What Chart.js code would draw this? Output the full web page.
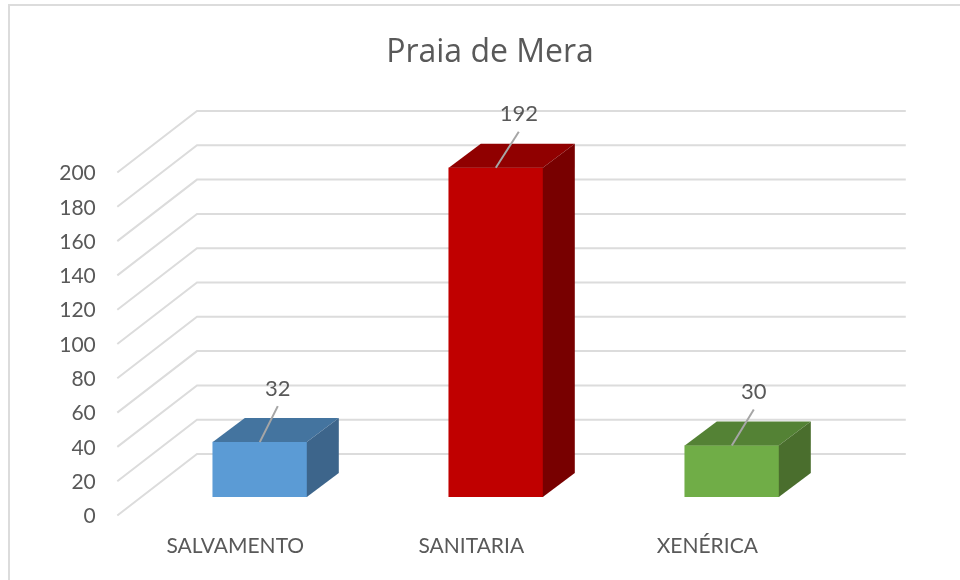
<!DOCTYPE html>
<html>
<head>
<meta charset="utf-8">
<style>
  html, body { margin: 0; background: #fff; }
  #frame { position: absolute; left: 8px; top: 4px; width: 952px; height: 576px; box-sizing: border-box;
           border-left: 2px solid #dcdcdc; border-top: 2px solid #dcdcdc; }
  canvas { position: absolute; left: 0; top: 0; }
</style>
</head>
<body>
<div id="frame"></div>
<canvas id="bar-chart" width="960" height="580"></canvas>
<script src="https://cdn.jsdelivr.net/npm/chart.js@4"></script>
<script>
const categories = ['SALVAMENTO', 'SANITARIA', 'XENÉRICA'];
const values = [32, 192, 30];
const yTicks = [0, 20, 40, 60, 80, 100, 120, 140, 160, 180, 200];
const frontColors = ['#5B9BD5', '#C00000', '#70AD47'];
const topColors = ['#44749F', '#900000', '#548235'];
const sideColors = ['#3D658B', '#780000', '#4A6E2D'];
const leaderDx = [18, 23, 22];

const textColor = '#595959';
const gridColor = '#dcdcdc';
const fontName = 'Lato, "Open Sans", sans-serif';

// walls and 3d sides, all hung off the library's scales
const wallsPlugin = {
    id: 'walls',
    beforeDatasetsDraw(chart) {
        const c = chart.ctx, area = chart.chartArea, y = chart.scales.y;
        c.save();
        c.strokeStyle = gridColor;
        c.lineWidth = 2;
        yTicks.forEach(v => {
            const py = y.getPixelForValue(v);
            c.beginPath();
            c.moveTo(area.left - 24.5, py + 18.5);
            c.lineTo(area.left + 55.2, py - 43);
            c.lineTo(area.right + 56, py - 43);
            c.stroke();
        });
        c.restore();
    }
};

const boxPlugin = {
    id: 'box',
    afterDatasetsDraw(chart) {
        const c = chart.ctx, dx = 32, dy = 24;
        c.save();
        chart.getDatasetMeta(0).data.forEach((bar, i) => {
            const l = bar.x - bar.width / 2, r = bar.x + bar.width / 2;
            c.fillStyle = topColors[i];
            c.beginPath();
            c.moveTo(l, bar.y);
            c.lineTo(l + dx, bar.y - dy);
            c.lineTo(r + dx, bar.y - dy);
            c.lineTo(r, bar.y);
            c.closePath();
            c.fill();
            c.fillStyle = sideColors[i];
            c.beginPath();
            c.moveTo(r, bar.y);
            c.lineTo(r + dx, bar.y - dy);
            c.lineTo(r + dx, bar.base - dy);
            c.lineTo(r, bar.base);
            c.closePath();
            c.fill();
            // leader line and value
            c.strokeStyle = '#a6a6a6';
            c.lineWidth = 2;
            c.beginPath();
            c.moveTo(bar.x, bar.y);
            c.lineTo(bar.x + leaderDx[i], bar.y - 36);
            c.stroke();
            c.fillStyle = textColor;
            c.font = '22px ' + fontName;
            c.textAlign = 'center';
            c.textBaseline = 'middle';
            c.fillText(String(values[i]), bar.x + leaderDx[i], bar.y - 53.5);
        });
        c.restore();
    }
};

new Chart(document.getElementById('bar-chart').getContext('2d'), {
    type: 'bar',
    data: {
        labels: categories,
        datasets: [{
            data: values,
            backgroundColor: frontColors,
            barThickness: 94
        }]
    },
    options: {
        responsive: false,
        animation: false,
        layout: { padding: { left: 20, right: 0, top: 0, bottom: 0 } },
        plugins: {
            legend: { display: false },
            tooltip: { enabled: false },
            title: {
                display: true,
                text: 'Praia de Mera',
                color: textColor,
                font: { family: '"Open Sans", sans-serif', size: 32, weight: 'normal' },
                padding: { top: 34, bottom: 81.6 }
            }
        },
        scales: {
            x: {
                grid: { display: false },
                border: { display: false },
                ticks: {
                    color: textColor,
                    font: { family: fontName, size: 21 },
                    padding: 29,
                    labelOffset: -24.5,
                    maxRotation: 0,
                    autoSkip: false
                },
                afterFit(s) { s.height = 83; }
            },
            y: {
                min: 0,
                max: 200,
                grid: { display: false },
                border: { display: false },
                afterBuildTicks(s) { s.ticks = yTicks.map(v => ({ value: v })); },
                ticks: {
                    color: textColor,
                    font: { family: fontName, size: 21 },
                    padding: 38,
                    labelOffset: 19.5
                },
                afterFit(s) { s.width = 121.8; }
            },
            // empty axis, only keeps the title centred on the whole page
            pad: {
                position: 'right',
                grid: { display: false },
                border: { display: false },
                ticks: { display: false },
                afterFit(s) { s.width = 110.2; }
            }
        }
    },
    plugins: [wallsPlugin, boxPlugin]
});
</script>
</body>
</html>
